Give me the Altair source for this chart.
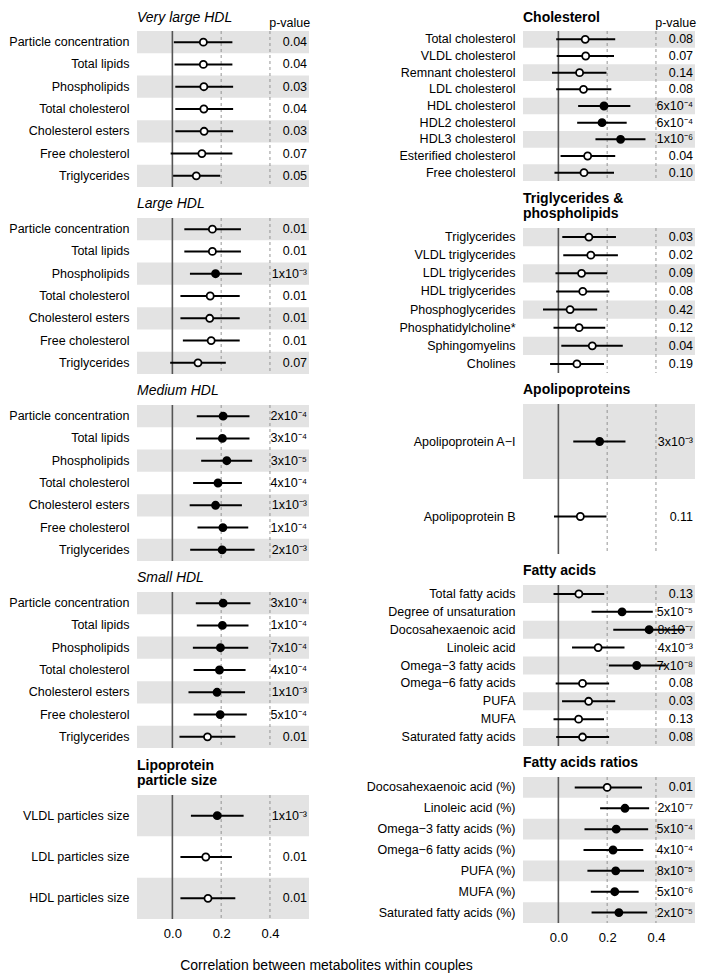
import altair as alt
import pandas as pd

FONT = "Liberation Sans"
XMIN, XMAX = -0.145, 0.56
W = 172
ref_lines = [0.2, 0.4]
axis_ticks = [0.0, 0.2, 0.4]

# ---------------- Left column ----------------
vl_labels = ["Particle concentration", "Total lipids", "Phospholipids", "Total cholesterol",
             "Cholesterol esters", "Free cholesterol", "Triglycerides"]
vl_r = [0.127, 0.127, 0.129, 0.129, 0.130, 0.121, 0.098]
vl_lo = [0.006, 0.009, 0.012, 0.012, 0.012, -0.007, 0.003]
vl_hi = [0.246, 0.246, 0.249, 0.249, 0.249, 0.246, 0.196]
vl_p = ["0.04", "0.04", "0.03", "0.04", "0.03", "0.07", "0.05"]
vl_sig = [False, False, False, False, False, False, False]

lg_labels = vl_labels
lg_r = [0.164, 0.164, 0.177, 0.155, 0.153, 0.159, 0.105]
lg_lo = [0.049, 0.049, 0.072, 0.033, 0.033, 0.043, -0.009]
lg_hi = [0.281, 0.281, 0.285, 0.276, 0.276, 0.276, 0.219]
lg_p = ["0.01", "0.01", "1x10⁻³", "0.01", "0.01", "0.01", "0.07"]
lg_sig = [False, False, True, False, False, False, False]

md_labels = vl_labels
md_r = [0.208, 0.205, 0.223, 0.187, 0.177, 0.207, 0.204]
md_lo = [0.100, 0.097, 0.118, 0.085, 0.071, 0.103, 0.073]
md_hi = [0.316, 0.316, 0.327, 0.285, 0.285, 0.311, 0.337]
md_p = ["2x10⁻⁴", "3x10⁻⁴", "3x10⁻⁵", "4x10⁻⁴", "1x10⁻³", "1x10⁻⁴", "2x10⁻³"]
md_sig = [True] * 7

sm_labels = vl_labels
sm_r = [0.208, 0.205, 0.197, 0.193, 0.183, 0.196, 0.144]
sm_lo = [0.096, 0.100, 0.084, 0.087, 0.066, 0.087, 0.029]
sm_hi = [0.320, 0.312, 0.311, 0.300, 0.298, 0.305, 0.258]
sm_p = ["3x10⁻⁴", "1x10⁻⁴", "7x10⁻⁴", "4x10⁻⁴", "1x10⁻³", "5x10⁻⁴", "0.01"]
sm_sig = [True, True, True, True, True, True, False]

ps_labels = ["VLDL particles size", "LDL particles size", "HDL particles size"]
ps_r = [0.184, 0.137, 0.146]
ps_lo = [0.076, 0.033, 0.033]
ps_hi = [0.292, 0.244, 0.258]
ps_p = ["1x10⁻³", "0.01", "0.01"]
ps_sig = [True, False, False]

# ---------------- Right column ----------------
ch_labels = ["Total cholesterol", "VLDL cholesterol", "Remnant cholesterol", "LDL cholesterol",
             "HDL cholesterol", "HDL2 cholesterol", "HDL3 cholesterol", "Esterified cholesterol",
             "Free cholesterol"]
ch_r = [0.110, 0.112, 0.087, 0.103, 0.187, 0.179, 0.255, 0.120, 0.105]
ch_lo = [-0.009, -0.007, -0.026, -0.009, 0.081, 0.077, 0.152, 0.009, -0.016]
ch_hi = [0.233, 0.228, 0.197, 0.217, 0.295, 0.280, 0.357, 0.233, 0.228]
ch_p = ["0.08", "0.07", "0.14", "0.08", "6x10⁻⁴", "6x10⁻⁴", "1x10⁻⁶", "0.04", "0.10"]
ch_sig = [False, False, False, False, True, True, True, False, False]

tp_labels = ["Triglycerides", "VLDL triglycerides", "LDL triglycerides", "HDL triglycerides",
             "Phosphoglycerides", "Phosphatidylcholine*", "Sphingomyelins", "Cholines"]
tp_r = [0.125, 0.133, 0.095, 0.100, 0.048, 0.085, 0.139, 0.076]
tp_lo = [0.016, 0.020, -0.012, -0.009, -0.063, -0.020, 0.012, -0.034]
tp_hi = [0.236, 0.244, 0.200, 0.209, 0.159, 0.192, 0.264, 0.187]
tp_p = ["0.03", "0.02", "0.09", "0.08", "0.42", "0.12", "0.04", "0.19"]
tp_sig = [False] * 8

ap_labels = ["Apolipoprotein A−I", "Apolipoprotein B"]
ap_r = [0.169, 0.090]
ap_lo = [0.061, -0.018]
ap_hi = [0.275, 0.197]
ap_p = ["3x10⁻³", "0.11"]
ap_sig = [True, False]

fa_labels = ["Total fatty acids", "Degree of unsaturation", "Docosahexaenoic acid", "Linoleic acid",
             "Omega−3 fatty acids", "Omega−6 fatty acids", "PUFA", "MUFA", "Saturated fatty acids"]
fa_r = [0.084, 0.261, 0.372, 0.163, 0.321, 0.099, 0.124, 0.083, 0.099]
fa_lo = [-0.020, 0.136, 0.225, 0.056, 0.207, -0.011, 0.015, -0.020, -0.009]
fa_hi = [0.188, 0.387, 0.519, 0.271, 0.440, 0.208, 0.233, 0.187, 0.208]
fa_p = ["0.13", "5x10⁻⁵", "8x10⁻⁷", "4x10⁻³", "7x10⁻⁸", "0.08", "0.03", "0.13", "0.08"]
fa_sig = [False, True, True, False, True, False, False, False, False]

fr_labels = ["Docosahexaenoic acid (%)", "Linoleic acid (%)", "Omega−3 fatty acids (%)",
             "Omega−6 fatty acids (%)", "PUFA (%)", "MUFA (%)", "Saturated fatty acids (%)"]
fr_r = [0.200, 0.273, 0.237, 0.224, 0.235, 0.231, 0.248]
fr_lo = [0.067, 0.171, 0.107, 0.103, 0.119, 0.133, 0.136]
fr_hi = [0.343, 0.372, 0.368, 0.348, 0.351, 0.329, 0.364]
fr_p = ["0.01", "2x10⁻⁷", "5x10⁻⁴", "4x10⁻⁴", "8x10⁻⁵", "5x10⁻⁶", "2x10⁻⁵"]
fr_sig = [False, True, True, True, True, True, True]

xscale = alt.Scale(domain=[XMIN, XMAX], nice=False, zero=False)


def panel(title, labels, r, lo, hi, p, sig, height, italic=False, header=False,
          xaxis=False, toffset=6):
    df = pd.DataFrame({"label": labels, "r": r, "lo": lo, "hi": hi, "p": p, "sig": sig,
                       "shade": [i % 2 == 0 for i in range(len(labels))]})
    yscale = alt.Scale(domain=labels, paddingInner=0, paddingOuter=0)
    y = alt.Y("label:N", scale=yscale, sort=labels,
              axis=alt.Axis(title=None, ticks=False, domain=False, labelPadding=8,
                            labelFontSize=12.5, labelFont=FONT, labelColor="black",
                            labelLimit=0))
    if xaxis:
        xax = alt.Axis(values=axis_ticks, format=".1f", title=None, grid=False, domain=False,
                       ticks=False, labelFontSize=13, labelFont=FONT, labelColor="black",
                       labelPadding=8)
    else:
        xax = None
    base = alt.Chart(df)
    bands = base.transform_filter("datum.shade").mark_rect(color="#e3e3e3").encode(
        y=y, x=alt.value(0), x2=alt.value(W))
    refs = alt.Chart(pd.DataFrame({"v": ref_lines})).mark_rule(
        color="#8a8a8a", strokeWidth=0.9, strokeDash=[3, 3]).encode(
        x=alt.X("v:Q", scale=xscale, axis=xax))
    zero = alt.Chart(pd.DataFrame({"v": [0.0]})).mark_rule(
        color="#555555", strokeWidth=1.6).encode(x=alt.X("v:Q", scale=xscale, axis=xax))
    err = base.mark_rule(color="black", strokeWidth=2).encode(
        y=y, x=alt.X("lo:Q", scale=xscale, axis=xax), x2="hi:Q")
    pts = base.mark_point(shape="circle", filled=True, size=50, stroke="black",
                          strokeWidth=1.8, opacity=1).encode(
        y=y, x=alt.X("r:Q", scale=xscale, axis=xax),
        fill=alt.condition("datum.sig", alt.value("black"), alt.value("white")))
    txt = base.mark_text(align="right", baseline="middle", fontSize=12.5, font=FONT,
                         color="black").encode(
        y=y, x=alt.XDatum(0.552, scale=xscale, axis=xax), text="p:N")
    layers = [bands, refs, zero, err, pts, txt]
    if header:
        hdr = alt.Chart(pd.DataFrame({"t": ["p-value"]})).mark_text(
            align="right", baseline="middle", fontSize=12.5, font=FONT, color="black").encode(
            x=alt.XDatum(0.565, scale=xscale, axis=xax), y=alt.value(-8), text="t:N")
        layers.append(hdr)
    tp = alt.TitleParams(title, anchor="start", frame="group", fontSize=14, font=FONT,
                         color="black", offset=toffset, lineHeight=15.5,
                         fontStyle="italic" if italic else "normal",
                         fontWeight="normal" if italic else "bold")
    return alt.layer(*layers).properties(width=W, height=height, title=tp)


left = alt.vconcat(
    panel("Very large HDL", vl_labels, vl_r, vl_lo, vl_hi, vl_p, vl_sig, 156, italic=True,
          header=True, toffset=-8),
    panel("Large HDL", lg_labels, lg_r, lg_lo, lg_hi, lg_p, lg_sig, 156, italic=True),
    panel("Medium HDL", md_labels, md_r, md_lo, md_hi, md_p, md_sig, 156, italic=True),
    panel("Small HDL", sm_labels, sm_r, sm_lo, sm_hi, sm_p, sm_sig, 156, italic=True),
    panel(["Lipoprotein", "particle size"], ps_labels, ps_r, ps_lo, ps_hi, ps_p, ps_sig, 124,
          xaxis=True),
    spacing=9,
)

right = alt.vconcat(
    panel("Cholesterol", ch_labels, ch_r, ch_lo, ch_hi, ch_p, ch_sig, 150, header=True,
          toffset=-8),
    panel(["Triglycerides &", "phospholipids"], tp_labels, tp_r, tp_lo, tp_hi, tp_p, tp_sig, 145),
    panel("Apolipoproteins", ap_labels, ap_r, ap_lo, ap_hi, ap_p, ap_sig, 150),
    panel("Fatty acids", fa_labels, fa_r, fa_lo, fa_hi, fa_p, fa_sig, 161),
    panel("Fatty acids ratios", fr_labels, fr_r, fr_lo, fr_hi, fr_p, fr_sig, 146, xaxis=True),
    spacing=9,
)

chart = alt.hconcat(left, right, spacing=55).properties(
    padding={"top": 3, "bottom": 0, "left": 0, "right": 0},
    title=alt.TitleParams("Correlation between metabolites within couples", orient="bottom",
                          anchor="middle", fontSize=14, font=FONT, fontWeight="normal",
                          color="black", offset=15, dx=-26),
).configure_view(stroke=None)

chart.save("out.html", embed_options={"renderer": "svg", "actions": False})
